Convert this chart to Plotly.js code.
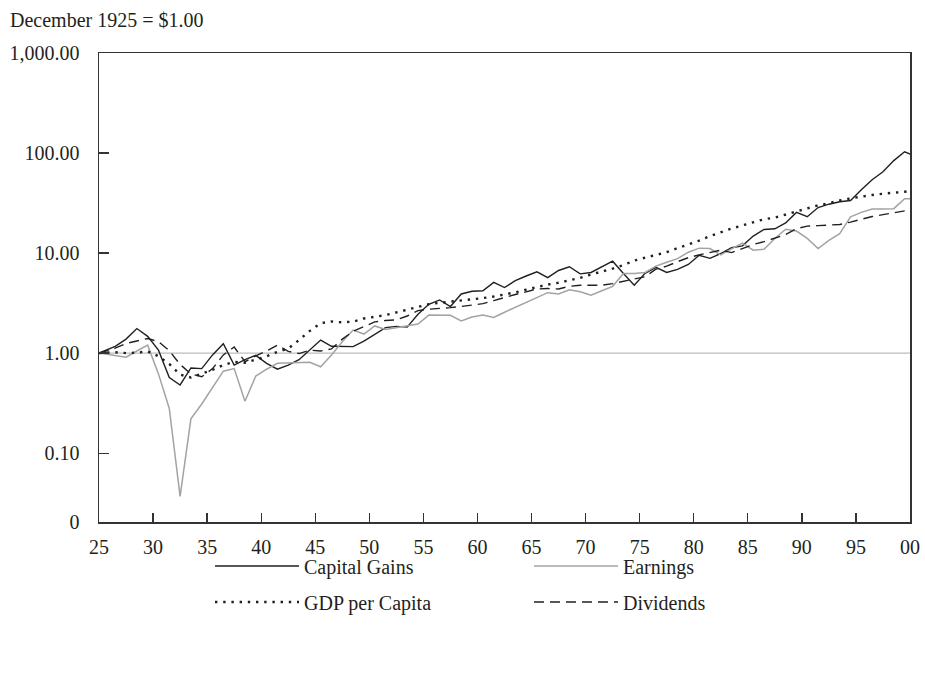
<!DOCTYPE html>
<html><head><meta charset="utf-8">
<script src="https://cdn.plot.ly/plotly-3.0.1.min.js"></script>
<style>html,body{margin:0;padding:0;background:#fff}#chart{width:925px;height:673px}</style>
</head><body><div id="chart"></div>
<script>
const years = [1925,1926,1927,1928,1929,1930,1931,1932,1933,1934,1935,1936,1937,1938,1939,
  1940,1941,1942,1943,1944,1945,1946,1947,1948,1949,1950,1951,1952,1953,1954,1955,1956,1957,1958,1959,
  1960,1961,1962,1963,1964,1965,1966,1967,1968,1969,1970,1971,1972,1973,1974,1975,1976,1977,1978,1979,
  1980,1981,1982,1983,1984,1985,1986,1987,1988,1989,1990,1991,1992,1993,1994,1995,1996,1997,1998,1999,2000];

const capitalGains = [1.00,1.17,1.38,1.76,1.47,1.07,0.57,0.48,0.71,0.70,0.96,1.24,0.76,0.86,0.95,
  0.79,0.69,0.76,0.86,1.07,1.35,1.17,1.16,1.16,1.32,1.55,1.80,1.85,1.82,2.45,3.08,3.40,2.92,3.90,4.15,
  4.20,5.10,4.52,5.30,5.90,6.50,5.69,6.70,7.30,6.20,6.40,7.35,8.30,6.24,4.76,6.27,7.20,6.40,6.87,7.70,
  9.50,8.85,9.90,11.3,11.8,14.8,17.2,17.5,20.0,25.5,23.1,28.5,30.8,32.6,33.5,43.0,54.0,65.0,84.0,103.0,93.0];

const earnings = [1.00,0.94,0.91,1.05,1.20,0.62,0.28,0.037,0.22,0.31,0.45,0.66,0.70,0.33,0.59,
  0.69,0.79,0.80,0.80,0.81,0.73,0.96,1.30,1.70,1.55,1.87,1.72,1.80,1.87,1.95,2.40,2.40,2.39,2.10,2.30,
  2.40,2.27,2.56,2.87,3.22,3.61,4.02,3.90,4.30,4.10,3.80,4.20,4.65,6.24,6.24,6.40,7.40,8.10,8.80,10.2,
  11.2,11.1,9.6,11.0,12.6,10.7,10.9,14.0,17.3,16.6,14.0,11.1,13.4,15.6,23.0,25.5,27.6,27.6,27.8,35.0,35.0];

const gdpPerCapita = [1.00,1.02,1.00,1.01,1.04,0.93,0.78,0.61,0.57,0.62,0.68,0.76,0.82,0.80,0.86,
  0.93,1.03,1.11,1.35,1.67,1.99,2.07,2.03,2.06,2.22,2.30,2.40,2.55,2.72,2.93,3.08,3.18,3.26,3.35,3.45,
  3.55,3.68,3.85,4.05,4.30,4.60,4.85,5.05,5.32,5.65,6.10,6.50,7.00,7.60,8.40,9.00,9.65,10.2,11.2,12.1,
  13.3,14.8,16.2,17.6,18.9,20.2,21.8,22.6,24.3,26.0,28.4,30.0,31.5,33.6,35.2,36.8,38.1,39.2,39.8,41.0,42.5];

const dividends = [1.00,1.12,1.25,1.33,1.40,1.30,1.06,0.77,0.62,0.58,0.70,0.96,1.15,0.82,0.94,
  1.05,1.20,1.04,0.99,1.07,1.05,1.10,1.38,1.65,1.85,2.05,2.12,2.15,2.35,2.66,2.75,2.79,2.85,2.93,3.02,
  3.12,3.35,3.62,3.85,4.10,4.38,4.42,4.38,4.65,4.77,4.77,4.77,4.95,5.20,5.55,5.80,6.90,7.40,8.20,9.00,
  9.60,10.1,10.7,10.1,11.0,12.2,13.0,14.2,15.3,17.5,18.6,18.8,19.0,19.3,20.4,21.9,23.2,24.2,25.2,26.4,24.9];

const seriesNames = ['Capital Gains','Earnings','GDP per Capita','Dividends'];
const xTickYears = [1925,1930,1935,1940,1945,1950,1955,1960,1965,1970,1975,1980,1985,1990,1995,2000];
const xTickLabels = ['25','30','35','40','45','50','55','60','65','70','75','80','85','90','95','00'];
const yBottom = 0.0205;
const yTickValues = [yBottom,0.1,1,10,100,1000];
const yTickLabels = ['0','0.10','1.00','10.00','100.00','1,000.00'];

// base value (Dec 1925) at the axis start; later year-end values sit mid-year
const xPos = years.map((y,i) => i === 0 ? y : y + 0.5);

const FONT = {family:'"Liberation Serif", "Times New Roman", serif', size:20, color:'#231f20'};
const INK = '#231f20';

const traces = [
  {x:xPos, y:capitalGains, name:seriesNames[0], mode:'lines', legend:'legend',
   line:{color:INK, width:1.4}},
  {x:xPos, y:earnings, name:seriesNames[1], mode:'lines', legend:'legend',
   line:{color:'#a3a3a3', width:1.5}},
  {x:xPos, y:gdpPerCapita, name:seriesNames[2], mode:'lines', legend:'legend2',
   line:{color:INK, width:2.4, dash:'2.4px,5.8px'}},
  {x:xPos, y:dividends, name:seriesNames[3], mode:'lines', legend:'legend2',
   line:{color:INK, width:1.4, dash:'10px,6px'}}
];

const legendCommon = {orientation:'h', xref:'container', yref:'container', xanchor:'left', yanchor:'middle',
  entrywidth:220, entrywidthmode:'pixels', itemwidth:84, font:FONT, bgcolor:'rgba(0,0,0,0)',
  traceorder:'normal', itemclick:false, itemdoubleclick:false};

const layout = {
  width:925, height:673,
  margin:{l:99, r:15, t:53, b:151},
  paper_bgcolor:'#fff', plot_bgcolor:'#fff',
  font:FONT,
  showlegend:true,
  title:{text:'December 1925 = $1.00', font:FONT, xref:'container', yref:'container',
         x:10/925, xanchor:'left', y:1-20/673, yanchor:'middle'},
  xaxis:{type:'linear', range:[1925,2000], tickvals:xTickYears, ticktext:xTickLabels,
         showgrid:false, zeroline:false, showline:true, mirror:true, linecolor:'#333', linewidth:1.5,
         ticks:'inside', ticklen:9, tickwidth:1.3, tickcolor:'#333', ticklabelstandoff:6, tickfont:FONT},
  yaxis:{type:'log', range:[Math.log10(yBottom), 3], tickvals:yTickValues, ticktext:yTickLabels,
         showgrid:false, zeroline:false, showline:true, mirror:true, linecolor:'#333', linewidth:1.5,
         ticks:'inside', ticklen:10, tickwidth:1.3, tickcolor:'#333', ticklabelstandoff:14, tickfont:FONT},
  shapes:[{type:'line', xref:'paper', x0:0, x1:1, yref:'y', y0:1, y1:1,
           line:{color:'#bdbdbd', width:1.4}, layer:'below'}],
  legend:Object.assign({}, legendCommon, {x:210/925, y:1-566/673}),
  legend2:Object.assign({}, legendCommon, {x:210/925, y:1-602/673})
};

Plotly.newPlot('chart', traces, layout, {staticPlot:true, displayModeBar:false});
</script>
</body></html>
